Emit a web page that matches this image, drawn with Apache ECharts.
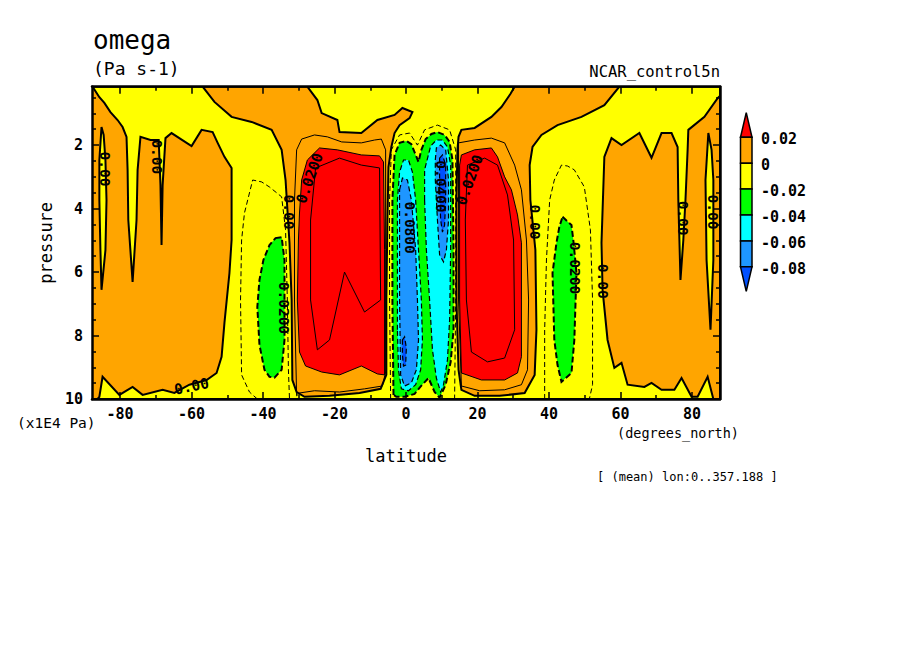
<!DOCTYPE html>
<html><head><meta charset="utf-8">
<script src="https://cdn.jsdelivr.net/npm/echarts@6.0.0/dist/echarts.min.js"></script>
<style>html,body{margin:0;padding:0;background:#fff}#c{width:904px;height:654px}</style>
</head><body><div id="c"></div>
<script>
// ---------------- data (latitude in degrees_north, pressure in x1E4 Pa) ----------------
const LAT_MIN = -87.86, LAT_MAX = 87.86, P_TOP = 0.16, P_BOT = 10;
const xMajor = [-80, -60, -40, -20, 0, 20, 40, 60, 80];
const xMinor = [-70, -50, -30, -10, 10, 30, 50, 70];
const yLabels = [2, 4, 6, 8, 10];
const yMajor = [2, 4, 6, 8];
const yMinor = [0.5, 1, 1.5, 2.5, 3, 3.5, 4.5, 5, 5.5, 6.5, 7, 7.5, 8.5, 9, 9.5];
// colour-bar boundaries and the class colours (highest first)
const cbLevels = [0.02, 0, -0.02, -0.04, -0.06, -0.08];
const cbColors = ['#ff0000', '#ffa500', '#ffff00', '#00ff00', '#00ffff', '#1e96ff', '#0050ff'];
// representative omega value of each filled class
const LV = {red: 0.03, orange: 0.01, yellow: -0.01, green: -0.03, cyan: -0.05, blue: -0.07, dark: -0.09};

// filled regions: [lat, p] vertices
const domain = [[LAT_MIN, P_TOP], [LAT_MAX, P_TOP], [LAT_MAX, P_BOT], [LAT_MIN, P_BOT]];
const orangeSouthPolar = [[-87.86,0.16],[-87.7,0.16],[-85.8,0.49],[-84.4,0.67],[-82.7,0.96],[-80.7,1.21],[-79.3,1.43],[-78.2,1.74],[-77.9,2.78],[-77.7,4.36],[-76.5,6.31],[-75.4,4.36],[-75.1,2.78],[-74.3,1.74],[-71.5,1.84],[-69.2,1.84],[-68.7,3.26],[-68.4,5.15],[-68.1,3.26],[-67.3,1.78],[-65.6,1.62],[-60.0,2.03],[-57.2,1.52],[-54.1,1.59],[-52.7,1.93],[-50.8,2.37],[-48.8,2.72],[-48.8,4.99],[-49.4,6.03],[-50.8,7.6],[-51.6,8.67],[-53.0,9.18],[-55.8,9.4],[-60.6,9.55],[-64.8,9.81],[-68.1,9.71],[-73.7,9.87],[-76.5,9.62],[-80.2,9.87],[-84.9,9.3],[-85.8,9.93],[-86.3,10],[-87.86,10]];
const yellowLensSouth = [[-85.2,1.43],[-85.8,2.47],[-85.8,3.73],[-85.5,5.31],[-85.2,6.56],[-84.1,5.31],[-83.8,3.73],[-84.1,2.47],[-84.6,1.68]];
const orangeSouthTrop = [[-56.9,0.16],[-27.6,0.16],[-24.8,0.58],[-23.6,0.99],[-19.2,1.21],[-18.6,1.59],[-12.5,1.62],[-8.0,1.21],[-3.2,1.05],[-1.0,0.83],[1.8,0.96],[1.0,1.15],[-1.8,1.37],[-3.2,1.62],[-4.1,2.06],[-4.9,2.69],[-5.2,4.36],[-5.5,6.88],[-5.5,9.24],[-7.1,9.68],[-13.0,9.81],[-21.4,9.9],[-28.4,9.93],[-30.6,9.78],[-31.8,9.4],[-32.0,6.88],[-32.6,5.08],[-33.7,3.1],[-34.8,2.15],[-37.6,1.52],[-43.2,1.27],[-48.8,1.11],[-53.6,0.64]];
const redSouth = [[-27.6,2.47],[-24.2,2.09],[-19.2,2.15],[-12.5,2.31],[-7.4,2.34],[-6.3,2.53],[-6.0,5.3],[-6.0,9.24],[-8.0,9.21],[-12.5,8.96],[-18.6,9.24],[-23.6,9.15],[-28.1,8.96],[-29.8,8.52],[-30.4,6.88],[-30.1,4.99],[-29.8,4.14],[-29.2,3.1]];
const orangeNorthTrop = [[30.4,0.16],[59.7,0.16],[55.5,0.74],[49.1,1.11],[42.4,1.37],[37.9,1.68],[35.4,2.06],[34.6,2.63],[34.8,3.73],[36.2,5.3],[36.5,7.82],[36.0,9.24],[33.2,9.81],[26.2,9.9],[19.2,9.9],[15.5,9.71],[14.7,9.08],[14.1,6.88],[14.1,3.73],[14.4,2.15],[14.7,1.74],[15.5,1.52],[19.2,1.46],[23.9,1.11],[26.7,0.8],[29.2,0.39]];
const redNorth = [[15.5,2.31],[19.2,2.15],[23.9,2.09],[25.6,2.37],[27.6,3.0],[29.5,3.41],[31.2,4.2],[32.3,5.08],[32.3,6.88],[32.3,8.67],[31.2,9.18],[27.6,9.4],[21.1,9.4],[15.5,9.18],[15.0,6.88],[15.0,3.73],[15.0,2.63]];
const orangeNorthPolar = [[55.5,2.37],[57.5,1.78],[60.3,2.0],[65.3,1.62],[68.7,2.4],[71.5,1.62],[74.3,1.62],[76.0,2.06],[76.2,3.73],[76.5,4.99],[76.8,6.25],[77.6,4.99],[78.2,3.73],[78.8,2.15],[79.0,1.52],[83.5,1.11],[87.2,0.52],[87.86,0.45],[87.86,10],[86.0,10],[84.4,9.3],[81.6,9.93],[79.9,9.93],[77.1,9.34],[75.1,9.71],[71.5,9.71],[68.7,9.49],[66.7,9.62],[62.0,9.55],[60.3,8.86],[58.3,9.02],[56.4,8.14],[55.0,6.56],[54.7,5.08]];
const yellowLensNorth = [[84.6,1.62],[83.8,3.1],[84.1,5.62],[85.2,7.82],[86.0,5.62],[86.0,3.1],[85.5,2.15]];
const greenSouth = [[-36.5,4.93],[-34.8,4.9],[-34.0,5.62],[-34.0,6.88],[-34.0,8.14],[-34.8,9.08],[-36.8,9.33],[-38.2,9.3],[-39.6,9.08],[-41.0,8.3],[-41.6,7.1],[-41.0,6.25],[-39.9,5.62],[-38.2,5.15]];
const greenNorth = [[43.8,4.26],[46.3,4.52],[46.9,5.08],[47.7,6.03],[47.1,8.14],[46.3,9.18],[43.5,9.46],[42.4,8.93],[41.5,8.14],[41.0,6.03],[42.1,5.08],[42.9,4.58]];
const greenEq = [[-3.5,9.87],[-3.8,6.88],[-3.8,3.73],[-3.2,2.31],[-1.8,1.93],[0.1,1.87],[1.5,1.97],[2.7,2.31],[3.5,2.53],[4.3,2.15],[5.5,1.81],[7.1,1.65],[8.8,1.59],[10.8,1.68],[12.2,1.9],[13.0,2.47],[13.3,5.3],[13.3,7.82],[12.5,8.83],[11.1,9.55],[9.4,9.96],[8.0,9.78],[6.3,9.34],[4.3,9.58],[2.4,9.84],[-0.4,9.93],[-2.7,9.93]];
const cyanEqWest = [[-2.4,7.82],[-2.4,5.3],[-2.4,3.73],[-1.8,2.85],[-0.7,2.47],[0.7,2.47],[1.8,2.85],[2.7,3.73],[3.5,5.3],[4.3,6.88],[4.6,8.14],[4.1,9.08],[2.7,9.55],[0.7,9.74],[-1.3,9.68],[-2.1,9.08]];
const cyanEqEast = [[5.2,3.73],[5.2,2.78],[6.9,2.03],[8.5,1.84],[10.2,1.84],[11.6,2.06],[12.5,2.63],[12.5,5.3],[12.2,7.51],[11.6,8.77],[10.5,9.55],[9.7,9.78],[8.5,9.34],[7.4,8.45],[6.6,6.88],[5.7,5.3]];
const blueEqWest = [[-1.8,3.41],[-1.0,3.04],[0.4,3.1],[1.5,3.73],[2.7,5.3],[3.2,6.88],[3.5,8.14],[2.9,9.08],[1.5,9.49],[-0.4,9.59],[-1.5,9.24],[-1.8,6.88]];
const blueEqEast = [[8.2,2.47],[8.5,2.09],[9.7,2.0],[11.1,2.15],[11.9,3.1],[11.9,4.36],[11.3,5.3],[10.5,5.68],[9.4,5.46],[8.8,4.36],[8.2,3.1]];
const darkEqEast = [[9.4,2.41],[10.2,2.31],[11.1,2.63],[11.1,3.73],[10.8,4.52],[10.2,4.74],[9.7,4.36],[9.4,3.41]];
const darkEqWest = [[-1.0,8.14],[-0.4,8.04],[0.1,8.39],[-0.1,8.93],[-0.7,8.96],[-1.0,8.61]];

// extra (unfilled) contour lines
const c001South = [[-30.6,9.9],[-31.2,6.88],[-31.2,3.73],[-30.6,2.15],[-29.2,1.81],[-25.6,1.68],[-22.0,1.74],[-18.0,1.9],[-12.5,1.93],[-8.8,1.84],[-6.9,1.81],[-5.7,2.15],[-5.7,5.3],[-5.7,9.15],[-6.6,9.59],[-11.6,9.68],[-18.6,9.78],[-25.6,9.74],[-29.8,9.81],[-30.6,9.9]];
const c001North = [[14.7,1.93],[19.2,1.84],[23.9,1.78],[27.6,1.93],[30.4,2.63],[32.3,3.41],[33.7,4.99],[34.3,6.88],[34.0,9.08],[32.3,9.55],[27.6,9.71],[20.6,9.74],[15.5,9.59],[14.7,6.88],[14.7,3.73],[14.7,1.93]];
const c003South = [[-25.3,2.72],[-18.6,2.41],[-12.5,2.63],[-7.4,2.72],[-7.1,6.88],[-11.6,7.26],[-17.2,6.0],[-21.4,8.14],[-24.8,8.45],[-26.7,6.88],[-26.7,4.36],[-25.3,2.72]];
const c003North = [[17.2,2.63],[22.0,2.41],[25.6,2.63],[28.4,3.57],[30.1,4.99],[30.4,7.82],[27.6,8.71],[22.8,8.83],[18.3,8.52],[16.9,6.88],[16.6,4.36],[17.2,2.63]];
const cm001South = [[-41.6,10],[-43.8,9.78],[-46.0,9.24],[-46.3,6.88],[-46.0,4.99],[-45.2,4.14],[-42.9,3.1],[-40.4,3.16],[-38.2,3.32],[-34.8,3.63],[-33.7,4.67],[-33.2,6.88],[-32.9,9.08],[-32.6,10]];
const cm001North = [[38.8,10],[38.8,7.82],[39.3,5.62],[40.2,3.73],[41.5,3.1],[43.5,2.63],[45.2,2.66],[47.1,2.78],[49.9,3.32],[51.6,4.67],[52.2,6.88],[52.2,9.55],[51.3,10]];
const cm001Eq = [[-4.3,10],[-4.6,6.88],[-4.6,3.73],[-4.1,2.15],[-1.8,1.68],[1.0,1.62],[3.2,2.0],[5.2,1.52],[8.8,1.37],[12.2,1.52],[13.9,2.15],[13.9,6.88],[13.6,10]];

// contour labels [lat, p, text]
const labelsVertical = [[-84.1,2.75,'0.00'],[-69.8,2.37,'0.00'],[-32.6,4.11,'0.00'],[-34.0,7.13,'0.0200'],[36.0,4.42,'0.00'],[47.4,5.87,'0.0200'],[55.0,6.29,'0.00'],[77.6,4.3,'0.00'],[86.0,4.11,'0.00'],[1.0,4.6,'0.0800'],[9.7,3.3,'0.0400']];
const labelsSlanted = [[-27.0,3.04,'0.0200'],[17.8,3.1,'0.0200']];
const labelsFlat = [[-60.0,9.6,'0.00']];

// ---------------- chart ----------------
const regions = [
  {pts: domain, level: LV.yellow},
  {pts: orangeSouthPolar, level: LV.orange},
  {pts: orangeSouthTrop, level: LV.orange},
  {pts: orangeNorthTrop, level: LV.orange},
  {pts: orangeNorthPolar, level: LV.orange},
  {pts: yellowLensSouth, level: LV.yellow},
  {pts: yellowLensNorth, level: LV.yellow},
  {pts: redSouth, level: LV.red},
  {pts: redNorth, level: LV.red},
  {pts: greenSouth, level: LV.green},
  {pts: greenNorth, level: LV.green},
  {pts: greenEq, level: LV.green},
  {pts: cyanEqWest, level: LV.cyan},
  {pts: cyanEqEast, level: LV.cyan},
  {pts: blueEqWest, level: LV.blue},
  {pts: blueEqEast, level: LV.blue},
  {pts: darkEqEast, level: LV.dark},
  {pts: darkEqWest, level: LV.dark}
];
const lines = [
  {pts: c001South, level: 0.01}, {pts: c001North, level: 0.01},
  {pts: c003South, level: 0.03}, {pts: c003North, level: 0.03},
  {pts: cm001South, level: -0.01}, {pts: cm001North, level: -0.01}, {pts: cm001Eq, level: -0.01}
];

const FONT = '"DejaVu Sans Mono", "Liberation Mono", monospace';

function outline(level) {
  if (level >= 0.02) return {w: 1, dash: null};
  if (level >= -0.02) return {w: 2, dash: null};
  if (level >= -0.04) return {w: 2, dash: [6, 3]};
  return {w: 1.2, dash: [5, 3]};
}

const pieces = [{gt: cbLevels[0], color: cbColors[0]}];
for (let i = 0; i < cbLevels.length - 1; i++) {
  pieces.push({gt: cbLevels[i + 1], lte: cbLevels[i], color: cbColors[i + 1]});
}
pieces.push({lte: cbLevels[cbLevels.length - 1], color: cbColors[cbColors.length - 1]});

function xAxisDef(position, ticks, len, withLabel, withLine) {
  return {
    type: 'value', position: position, min: LAT_MIN, max: LAT_MAX, z: 10,
    name: withLabel ? 'latitude' : '', nameLocation: 'middle', nameGap: 48,
    nameTextStyle: {fontFamily: FONT, fontSize: 17, color: '#000'},
    axisLine: {show: withLine, onZero: false, lineStyle: {color: '#000', width: 2.5}},
    axisTick: {show: true, inside: true, length: len, customValues: ticks, lineStyle: {color: '#000', width: 1.5}},
    axisLabel: {show: withLabel, customValues: xMajor, margin: 7, fontFamily: FONT, fontSize: 15, fontWeight: 'bold', color: '#000'},
    splitLine: {show: false}
  };
}
function yAxisDef(position, ticks, len, withLabel, withLine) {
  return {
    type: 'value', position: position, inverse: true, min: P_TOP, max: P_BOT, z: 10,
    name: withLabel ? 'pressure' : '', nameLocation: 'middle', nameGap: 36, nameRotate: 90,
    nameTextStyle: {fontFamily: FONT, fontSize: 17, color: '#000'},
    axisLine: {show: withLine, onZero: false, lineStyle: {color: '#000', width: 2.5}},
    axisTick: {show: true, inside: true, length: len, customValues: ticks, lineStyle: {color: '#000', width: 1.5}},
    axisLabel: {show: withLabel, customValues: yLabels, margin: 9, fontFamily: FONT, fontSize: 15, fontWeight: 'bold', color: '#000'},
    splitLine: {show: false}
  };
}

// colour bar (legend) built from cbLevels / cbColors
const CB = {x: 740.5, w: 11.5, top: 137.3, h: 25.9, tri: 24.6, labelX: 761};
const nBox = cbLevels.length - 1;
const cbGraphics = [];
cbGraphics.push({type: 'polygon', shape: {points: [[CB.x, CB.top], [CB.x + CB.w, CB.top], [CB.x + CB.w / 2, CB.top - CB.tri]]}, style: {fill: cbColors[0], stroke: '#000', lineWidth: 1.5}});
for (let i = 0; i < nBox; i++) {
  cbGraphics.push({type: 'rect', shape: {x: CB.x, y: CB.top + i * CB.h, width: CB.w, height: CB.h}, style: {fill: cbColors[i + 1], stroke: '#000', lineWidth: 1.5}});
}
const cbBottom = CB.top + nBox * CB.h;
cbGraphics.push({type: 'polygon', shape: {points: [[CB.x, cbBottom], [CB.x + CB.w, cbBottom], [CB.x + CB.w / 2, cbBottom + CB.tri]]}, style: {fill: cbColors[cbColors.length - 1], stroke: '#000', lineWidth: 1.5}});
cbLevels.forEach((v, i) => {
  cbGraphics.push({type: 'text', x: CB.labelX, y: CB.top + i * CB.h + 2, style: {text: String(v), fill: '#000', font: 'bold 15px ' + FONT, align: 'left', verticalAlign: 'middle'}});
});

const textGraphics = [
  {type: 'text', x: 93, y: 40, style: {text: 'omega', fill: '#000', font: '26px ' + FONT, align: 'left', verticalAlign: 'middle'}},
  {type: 'text', x: 93, y: 68, style: {text: '(Pa s-1)', fill: '#000', font: '18px ' + FONT, align: 'left', verticalAlign: 'middle'}},
  {type: 'text', x: 720, y: 72, style: {text: 'NCAR_control5n', fill: '#000', font: '15.5px ' + FONT, align: 'right', verticalAlign: 'middle'}},
  {type: 'text', x: 17, y: 423, style: {text: '(x1E4 Pa)', fill: '#000', font: '14.5px ' + FONT, align: 'left', verticalAlign: 'middle'}},
  {type: 'text', x: 617, y: 433, style: {text: '(degrees_north)', fill: '#000', font: '13.5px ' + FONT, align: 'left', verticalAlign: 'middle'}},
  {type: 'text', x: 597, y: 477, style: {text: '[ (mean) lon:0..357.188 ]', fill: '#000', font: '12px ' + FONT, align: 'left', verticalAlign: 'middle'}}
];

function labelSeries(arr, rot) {
  return {
    type: 'scatter', xAxisIndex: 0, yAxisIndex: 0, z: 5, silent: true, symbolSize: 2,
    itemStyle: {color: 'rgba(0,0,0,0)'},
    data: arr.map(d => ({value: [d[0], d[1]], name: d[2]})),
    label: {show: true, position: 'inside', formatter: function (p) { return p.name; }, rotate: rot,
      fontFamily: FONT, fontSize: 14.5, fontWeight: 'bold', color: '#000', opacity: 1}
  };
}

const option = {
  animation: false,
  backgroundColor: '#fff',
  textStyle: {fontFamily: FONT},
  grid: {left: 92, top: 86.7, width: 628, height: 312.3, containLabel: false, outerBoundsMode: 'none', show: false},
  xAxis: [
    xAxisDef('bottom', xMajor, 7, true, true),
    xAxisDef('bottom', xMinor, 4, false, false),
    xAxisDef('top', xMajor, 7, false, true),
    xAxisDef('top', xMinor, 4, false, false)
  ],
  yAxis: [
    yAxisDef('left', yMajor, 7, true, true),
    yAxisDef('left', yMinor, 4, false, false),
    yAxisDef('right', yMajor, 7, false, true),
    yAxisDef('right', yMinor, 4, false, false)
  ],
  visualMap: {type: 'piecewise', show: false, dimension: 0, seriesIndex: 0, pieces: pieces},
  series: [
    {
      type: 'custom', coordinateSystem: 'cartesian2d', xAxisIndex: 0, yAxisIndex: 0, clip: true, silent: true, z: 1,
      data: regions.map((r, i) => [r.level, i]),
      renderItem: function (params, api) {
        const r = regions[params.dataIndex];
        const st = outline(r.level);
        return {
          type: 'polygon',
          shape: {points: r.pts.map(p => api.coord(p))},
          style: {fill: api.visual('color'), stroke: '#000', lineWidth: st.w, lineDash: st.dash}
        };
      }
    }
  ].concat(lines.map(c => ({
    type: 'line', xAxisIndex: 0, yAxisIndex: 0, z: 3, silent: true, symbol: 'none',
    data: c.pts,
    lineStyle: {color: '#000', width: 1, type: c.level < 0 ? [5, 3] : 'solid'}
  }))).concat([
    labelSeries(labelsVertical, -90),
    labelSeries(labelsSlanted, 70),
    labelSeries(labelsFlat, 12)
  ]),
  graphic: cbGraphics.concat(textGraphics)
};

const chart = echarts.init(document.getElementById('c'), null, {renderer: 'svg'});
chart.setOption(option);
</script></body></html>
